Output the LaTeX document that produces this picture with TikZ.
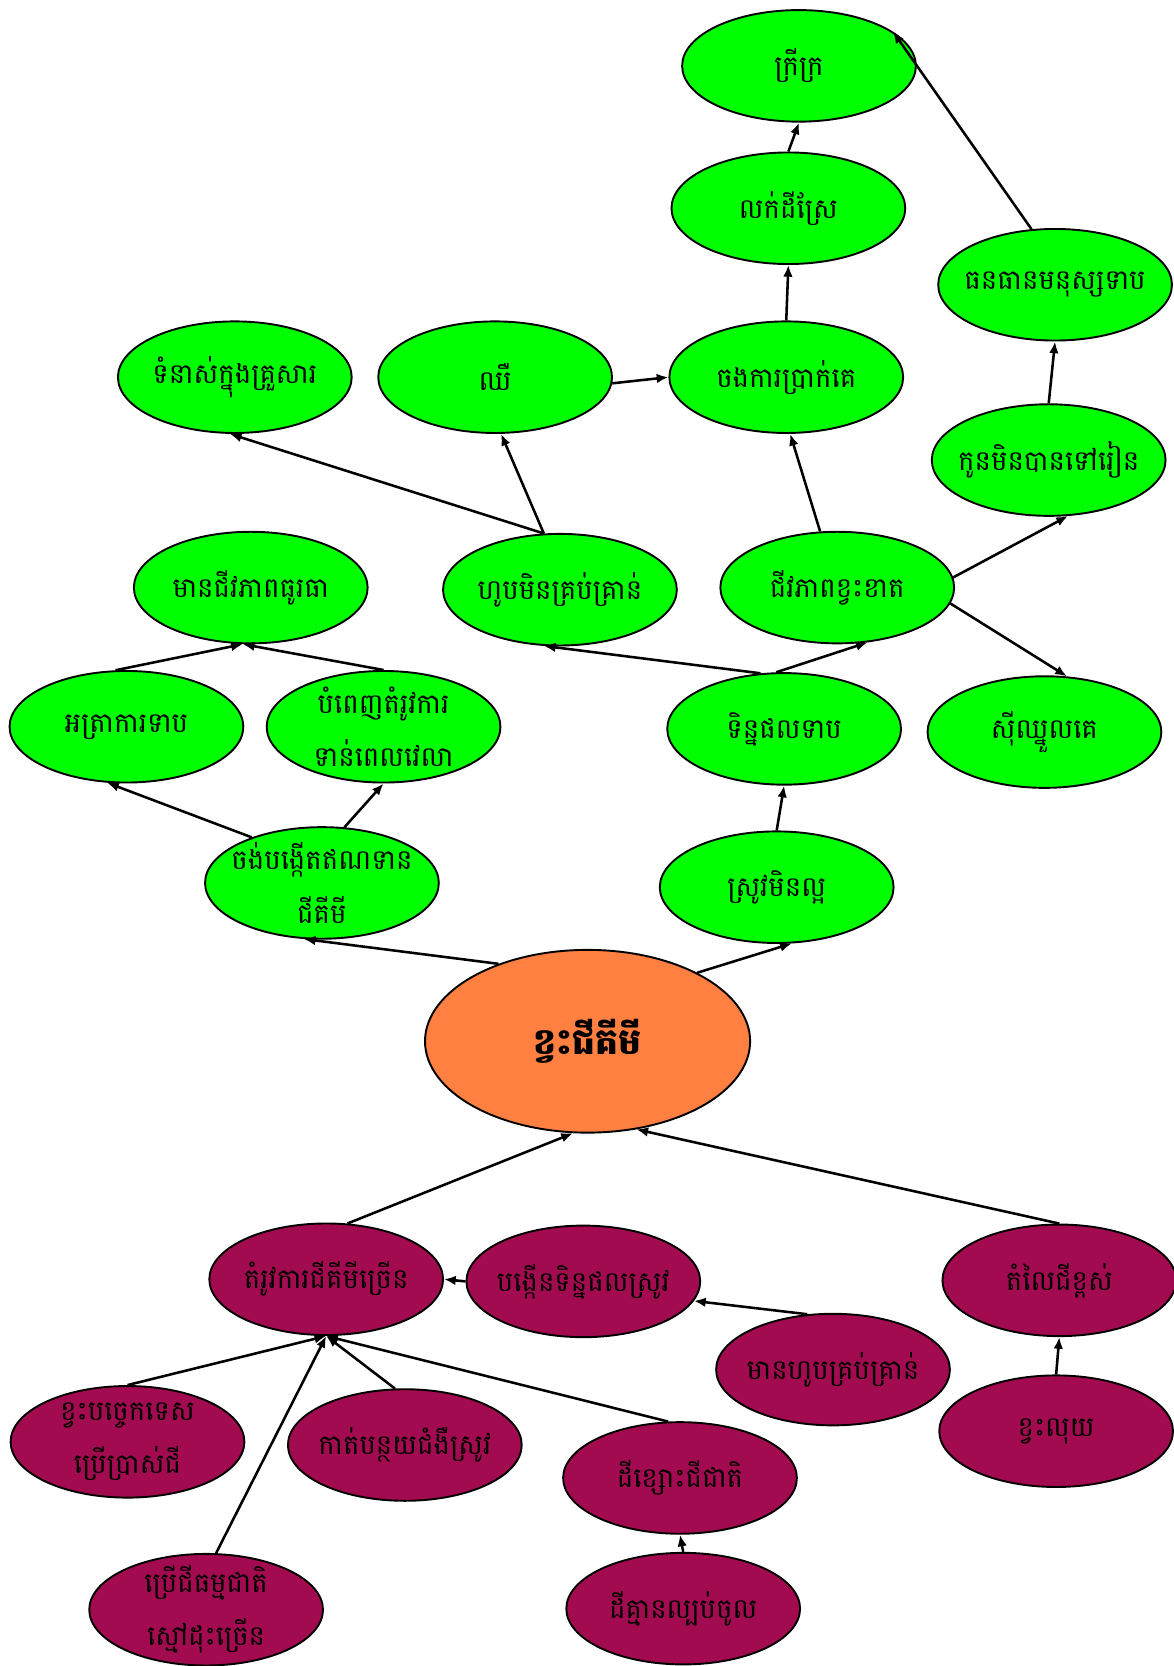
\documentclass[tikz,border=0pt]{standalone}
\usepackage{fontspec}
\newfontfamily\khmerfont[Script=Khmer]{Battambang}
\usetikzlibrary{shapes.geometric,arrows.meta}
\definecolor{leaf}{RGB}{0,255,0}
\definecolor{core}{RGB}{255,128,64}
\definecolor{plum}{RGB}{163,11,80}

\begin{document}
\begin{tikzpicture}[x=1pt,y=-1pt]
\tikzstyle{every node}+=[inner sep=0pt]
\tikzstyle{bubble}=[ellipse,draw=black,line width=1.8pt,minimum width=220pt,minimum height=105pt,inner xsep=-45pt,inner ysep=-30pt,align=center,font=\khmerfont\fontsize{26}{50}\selectfont]
\tikzstyle{effect}=[bubble,fill=leaf]
\tikzstyle{cause}=[bubble,fill=plum]
\tikzstyle{link}=[black,line width=2.4pt,-{Latex[length=11pt,width=9pt]}]

\useasboundingbox (0,0) rectangle (1104,1568);

\node[effect] (poor) at (752,62) {ក្រីក្រ};
\node[effect] (sellland) at (742,196) {លក់ដីស្រែ};
\node[effect] (lowhr) at (993,268) {ធនធានមនុស្សទាប};
\node[effect] (noschool) at (987,433) {កូនមិនបានទៅរៀន};

\node[effect] (conflict) at (221,355) {ទំនាស់ក្នុងគ្រួសារ};
\node[effect] (sick) at (466,355) {ឈឺ};
\node[effect] (borrow) at (740,355) {ចងការប្រាក់គេ};

\node[effect] (welloff) at (236,553) {មានជីវភាពធូរធា};
\node[effect] (notenough) at (527,555) {ហូបមិនគ្រប់គ្រាន់};
\node[effect] (hardlife) at (788,553) {ជីវភាពខ្វះខាត};

\node[effect] (lowrate) at (119,684) {អត្រាការទាប};
\node[effect] (ontime) at (361,684) {បំពេញតំរូវការ\\ទាន់ពេលវេលា};
\node[effect] (lowyield) at (738,686) {ទិន្នផលទាប};
\node[effect] (hired) at (983,689) {ស៊ីឈ្នួលគេ};

\node[effect] (credit) at (303,831) {ចង់បង្កើតឥណទាន\\ជីគីមី};
\node[effect] (badrice) at (731,835) {ស្រូវមិនល្អ};

\node[bubble,fill=core,minimum width=306pt,minimum height=172pt,font=\khmerfont\bfseries\fontsize{34}{40}\selectfont] (lackfert) at (553,980) {ខ្វះជីគីមី};

\node[cause] (needfert) at (307,1204) {តំរូវការជីគីមីច្រើន};
\node[cause] (moreyield) at (549,1206) {បង្កើនទិន្នផលស្រូវ};
\node[cause] (highprice) at (997,1205) {តំលៃជីខ្ពស់};
\node[cause] (enoughfood) at (784,1289) {មានហូបគ្រប់គ្រាន់};
\node[cause] (lackmoney) at (994,1347) {ខ្វះលុយ};

\node[cause] (lacktech) at (120,1357) {ខ្វះបច្ចេកទេស\\ប្រើប្រាស់ជី};
\node[cause] (lessdisease) at (381,1360) {កាត់បន្ថយជំងឺស្រូវ};
\node[cause] (poorsoil) at (640,1391) {ដីខ្សោះជីជាតិ};
\node[cause] (nosilt) at (643,1514) {ដីគ្មានល្បប់ចូល};
\node[cause] (natfert) at (194,1515) {ប្រើជីធម្មជាតិ\\ស្មៅដុះច្រើន};

\draw[link] (sellland.north) -- (poor.south);
\draw[link] (lowhr.113) -- (poor.20);
\draw[link] (borrow.north) -- (sellland.south);
\draw[link] (noschool.north) -- (lowhr.south);
\draw[link] (sick.-3) -- (borrow.west);

\draw[link] (notenough.106) -- (conflict.265);
\draw[link] (notenough.106) -- (sick.-84);
\draw[link] (hardlife.107) -- (borrow.-86);
\draw[link] (hardlife.5) -- (noschool.-71);
\draw[link] (hardlife.-8) -- (hired.68);

\draw[link] (lowyield.113) -- (notenough.254);
\draw[link] (lowyield.98) -- (hardlife.-61);
\draw[link] (lowrate.101) -- (welloff.262);
\draw[link] (ontime.north) -- (welloff.262);

\draw[link] (credit.147) -- (lowrate.251);
\draw[link] (credit.68) -- (ontime.south);
\draw[link] (badrice.north) -- (lowyield.south);

\draw[link] (lackfert.139) -- (credit.252);
\draw[link] (lackfert.32) -- (badrice.285);

\draw[link] (needfert.69) -- (lackfert.261);
\draw[link] (highprice.north) -- (lackfert.299);
\draw[link] (moreyield.west) -- (needfert.east);
\draw[link] (enoughfood.115) -- (moreyield.-10);
\draw[link] (lackmoney.north) -- (highprice.south);

\draw[link] (lacktech.north) -- (needfert.south);
\draw[link] (lessdisease.100) -- (needfert.south);
\draw[link] (poorsoil.102) -- (needfert.south);
\draw[link] (natfert.80) -- (needfert.south);
\draw[link] (nosilt.north) -- (poorsoil.south);
\end{tikzpicture}
\end{document}
